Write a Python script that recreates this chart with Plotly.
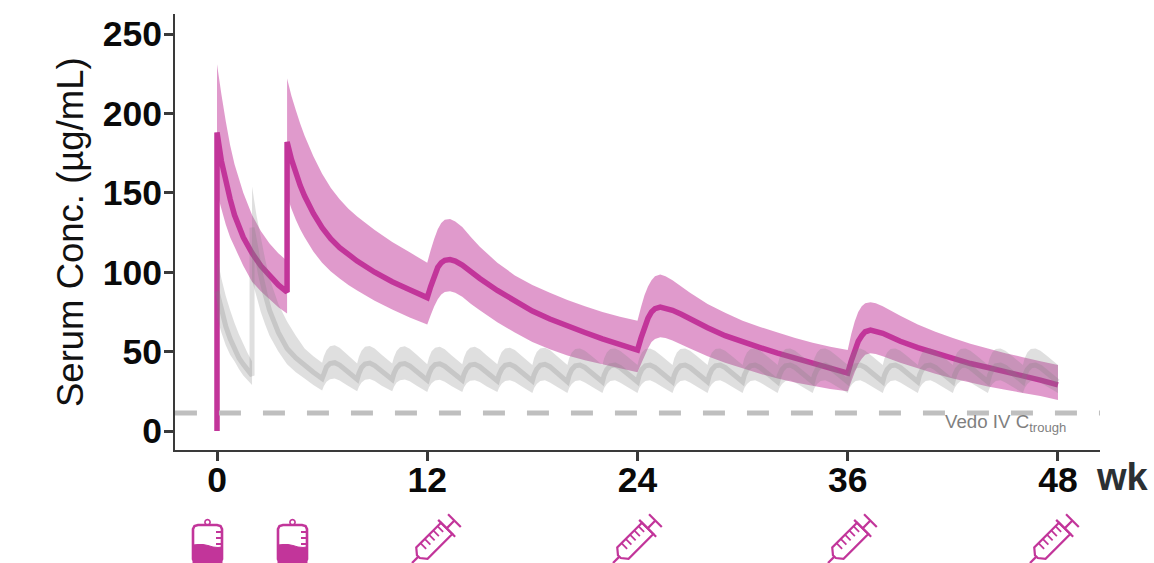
import math
import plotly.graph_objects as go

# ---------- data ----------
mag_weeks = [0, 0.25, 0.5, 0.75, 1, 1.5, 2, 2.5, 3, 3.5, 4,
             4, 4.25, 4.5, 4.75, 5, 5.5, 6, 6.5, 7, 7.5, 8, 9, 10, 11, 12,
             12.2, 12.4, 12.6, 12.8, 13, 13.3, 13.6, 14, 14.5, 15, 16, 17, 18, 19, 20, 21, 22, 23, 24,
             24.2, 24.4, 24.6, 24.8, 25, 25.3, 25.6, 26, 26.5, 27, 28, 29, 30, 31, 32, 33, 34, 35, 36,
             36.2, 36.4, 36.6, 36.8, 37, 37.3, 37.6, 38, 38.5, 39, 40, 41, 42, 43, 44, 45, 46, 47, 48]
mag_median = [188, 170, 157, 146, 136, 122, 112, 104, 98, 92, 87.5,
              182, 171, 162, 154.5, 148, 137, 128, 121, 115.5, 111, 107, 100, 94, 89, 84,
              91, 98, 103, 106, 107.5, 108, 107, 104.5, 100, 96, 88.5, 81.5, 75.5, 70.5, 66, 62, 58, 54.5, 51,
              58.5, 65.5, 71, 75, 77, 78, 77.5, 76, 73.5, 70.5, 65, 60, 56, 52.5, 49, 46, 43, 39.5, 36.5,
              44, 51, 56.5, 60, 62.5, 63.5, 63, 61.5, 59, 56.5, 52.5, 49, 45.5, 42.5, 40, 37.5, 35, 32, 29]
mag_upper = [231, 212, 195, 180, 168, 150, 136, 126, 118, 112, 107,
             222, 211, 202, 193.5, 186, 173, 162, 153, 146, 140, 135, 126.5, 119, 112.5, 106,
             114, 121, 127, 131, 133, 133.5, 132, 128.5, 122, 116, 106, 98, 92, 87, 82.5, 78.5, 75, 72, 69.5,
             78, 85.5, 91, 95, 97.5, 98.5, 97.5, 95, 91, 87, 80, 74.5, 69.5, 65.5, 62, 58.5, 55.5, 53, 51,
             61, 69, 75, 78.5, 80.5, 81, 80.5, 78.5, 75.5, 72.5, 67, 62.5, 58.5, 55, 52, 49, 46.5, 44, 41.5]
mag_lower = [150, 140, 130, 122, 116, 104, 94, 88, 83, 78, 74,
             148, 140, 133, 127, 122, 113, 106, 100.5, 96, 92, 88.5, 82, 76.5, 71.5, 67,
             73, 78.5, 83, 86, 87.5, 88, 87, 84.5, 80, 76, 68.5, 62, 56, 51.5, 47.5, 44.5, 42, 39.5, 37,
             42, 47, 52, 56, 58, 59, 58.5, 57, 54.5, 52, 47, 43, 39.5, 36, 33, 30.5, 28.5, 26.5, 25,
             31, 37, 42, 45.5, 48, 49, 48.5, 47, 45, 43, 39.5, 36, 33, 30.5, 28, 26, 24, 22, 19.5]

gray_weeks = [0, 0.25, 0.5, 0.75, 1, 1.25, 1.5, 1.75, 2,
              2, 2.25, 2.5, 2.75, 3, 3.5, 4, 4.5, 5, 5.5,
              6, 6.1, 6.25, 6.45, 6.72, 7, 7.4,
              8, 8.1, 8.25, 8.45, 8.72, 9, 9.4,
              10, 10.1, 10.25, 10.45, 10.72, 11, 11.4,
              12, 12.1, 12.25, 12.45, 12.72, 13, 13.4,
              14, 14.1, 14.25, 14.45, 14.72, 15, 15.4,
              16, 16.1, 16.25, 16.45, 16.72, 17, 17.4,
              18, 18.1, 18.25, 18.45, 18.72, 19, 19.4,
              20, 20.1, 20.25, 20.45, 20.72, 21, 21.4,
              22, 22.1, 22.25, 22.45, 22.72, 23, 23.4,
              24, 24.1, 24.25, 24.45, 24.72, 25, 25.4,
              26, 26.1, 26.25, 26.45, 26.72, 27, 27.4,
              28, 28.1, 28.25, 28.45, 28.72, 29, 29.4,
              30, 30.1, 30.25, 30.45, 30.72, 31, 31.4,
              32, 32.1, 32.25, 32.45, 32.72, 33, 33.4,
              34, 34.1, 34.25, 34.45, 34.72, 35, 35.4,
              36, 36.1, 36.25, 36.45, 36.72, 37, 37.4,
              38, 38.1, 38.25, 38.45, 38.72, 39, 39.4,
              40, 40.1, 40.25, 40.45, 40.72, 41, 41.4,
              42, 42.1, 42.25, 42.45, 42.72, 43, 43.4,
              44, 44.1, 44.25, 44.45, 44.72, 45, 45.4,
              46, 46.1, 46.25, 46.45, 46.72, 47, 47.4,
              48]
gray_median = [88, 76, 66, 58, 52, 46, 42, 38, 35,
               128, 112, 98, 86, 76, 62, 52, 46, 41, 37,
               33, 36.8, 40.3, 42.5, 43, 41.5, 38,
               32.5, 36.3, 40, 42.2, 42.8, 41.2, 37.6,
               32.5, 36.2, 39.7, 42, 42.5, 41, 37.5,
               32, 36, 39.5, 41.8, 42.3, 40.8, 37.3,
               32, 35.8, 39.2, 41.5, 42, 40.5, 37,
               31.5, 35.5, 39, 41.4, 42, 40.5, 37,
               31.5, 35.5, 39, 41.4, 42, 40.5, 37,
               31, 35.2, 38.8, 41, 41.5, 40, 36.6,
               31, 35.2, 38.8, 41, 41.5, 40, 36.6,
               31, 35.2, 38.8, 41, 41.5, 40, 36.6,
               31, 35.2, 38.8, 41, 41.5, 40, 36.6,
               31, 35.2, 38.8, 41, 41.5, 40, 36.6,
               31, 35.2, 38.8, 41, 41.5, 40, 36.6,
               31, 35.2, 38.8, 41, 41.5, 40, 36.6,
               31, 35.2, 38.8, 41, 41.5, 40, 36.6,
               31, 35.2, 38.8, 41, 41.5, 40, 36.6,
               31, 35.2, 38.8, 41, 41.5, 40, 36.6,
               31, 35.2, 38.8, 41, 41.5, 40, 36.6,
               31, 35.2, 38.8, 41, 41.5, 40, 36.6,
               31, 35.2, 38.8, 41, 41.5, 40, 36.6,
               31, 35.2, 38.8, 41, 41.5, 40, 36.6,
               31]
gray_upper = [110, 96, 85, 76, 68, 61, 55, 49, 44,
              154, 136, 122, 108, 96, 80, 69, 60, 52, 47,
              43, 47, 50.8, 53.3, 54, 52.5, 48.5,
              42.5, 46.8, 50.6, 53, 53.5, 52, 48,
              42.5, 46.5, 50.4, 52.8, 53.3, 51.8, 48,
              42, 46.3, 50.2, 52.5, 53, 51.5, 47.5,
              42, 46.3, 50.2, 52.5, 53, 51.5, 47.5,
              42, 46, 49.8, 52, 52.5, 51, 47.3,
              41.5, 46, 49.8, 52, 52.5, 51, 47.3,
              41.5, 45.8, 49.5, 51.6, 52, 50.6, 47,
              41.5, 45.8, 49.5, 51.6, 52, 50.6, 47,
              41.5, 45.8, 49.5, 51.6, 52, 50.6, 47,
              41.5, 45.8, 49.5, 51.6, 52, 50.6, 47,
              41.5, 45.8, 49.5, 51.6, 52, 50.6, 47,
              41.5, 45.8, 49.5, 51.6, 52, 50.6, 47,
              41.5, 45.8, 49.5, 51.6, 52, 50.6, 47,
              41.5, 45.8, 49.5, 51.6, 52, 50.6, 47,
              41.5, 45.8, 49.5, 51.6, 52, 50.6, 47,
              41.5, 45.8, 49.5, 51.6, 52, 50.6, 47,
              41.5, 45.8, 49.5, 51.6, 52, 50.6, 47,
              41.5, 45.8, 49.5, 51.6, 52, 50.6, 47,
              41.5, 45.8, 49.5, 51.6, 52, 50.6, 47,
              41.5, 45.8, 49.5, 51.6, 52, 50.6, 47,
              41.5]
gray_lower = [72, 62, 54, 48, 44, 39, 35, 32, 29,
              95, 85, 75, 67, 60, 50, 42, 37, 33, 29,
              25.5, 28.3, 31, 32.6, 33, 31.8, 29,
              25, 27.8, 30.5, 32.3, 32.8, 31.5, 28.5,
              25, 27.8, 30.5, 32, 32.5, 31.3, 28.5,
              24.5, 27.5, 30, 31.8, 32.3, 31, 28.2,
              24.5, 27.5, 30, 31.6, 32, 30.8, 28,
              24.5, 27.2, 29.8, 31.5, 32, 30.8, 28,
              24, 27, 29.6, 31.5, 32, 30.6, 27.8,
              24, 27, 29.6, 31.5, 32, 30.6, 27.8,
              24, 27, 29.6, 31.5, 32, 30.6, 27.8,
              24, 27, 29.6, 31.5, 32, 30.6, 27.8,
              24, 27, 29.6, 31.5, 32, 30.6, 27.8,
              24, 27, 29.6, 31.5, 32, 30.6, 27.8,
              24, 27, 29.6, 31.5, 32, 30.6, 27.8,
              24, 27, 29.6, 31.5, 32, 30.6, 27.8,
              24, 27, 29.6, 31.5, 32, 30.6, 27.8,
              24, 27, 29.6, 31.5, 32, 30.6, 27.8,
              24, 27, 29.6, 31.5, 32, 30.6, 27.8,
              24, 27, 29.6, 31.5, 32, 30.6, 27.8,
              24, 27, 29.6, 31.5, 32, 30.6, 27.8,
              24, 27, 29.6, 31.5, 32, 30.6, 27.8,
              24, 27, 29.6, 31.5, 32, 30.6, 27.8,
              24]

x_ticks = [0, 12, 24, 36, 48]
y_ticks = [0, 50, 100, 150, 200, 250]
trough_level = 11.3
trough_span = [-2.4, 50.4]

# ---------- style / layout constants ----------
W, H = 1154, 563
L, R, T, B = 175, 1100, 14, 450
MAG = "#C2359A"
FONT = "Liberation Sans"
AXC = "#3a3a3a"

def px(x):
    return (x - L) / (R - L)

def py(y):
    return (B - y) / (B - T)

fig = go.Figure()

fig.add_trace(go.Scatter(x=mag_weeks + mag_weeks[::-1], y=mag_upper + mag_lower[::-1],
                         fill="toself", fillcolor="rgba(194,53,154,0.5)", mode="none",
                         hoverinfo="skip", showlegend=False))
fig.add_trace(go.Scatter(x=[0] + mag_weeks, y=[0] + mag_median, mode="lines",
                         line=dict(color=MAG, width=5.5), showlegend=False))
fig.add_trace(go.Scatter(x=gray_weeks + gray_weeks[::-1], y=gray_upper + gray_lower[::-1],
                         fill="toself", fillcolor="rgba(128,128,128,0.25)", mode="none",
                         hoverinfo="skip", showlegend=False))
fig.add_trace(go.Scatter(x=gray_weeks, y=gray_median, mode="lines",
                         line=dict(color="rgba(128,128,128,0.25)", width=5), showlegend=False))
fig.add_trace(go.Scatter(x=trough_span, y=[trough_level, trough_level], mode="lines",
                         line=dict(color="#bfbfbf", width=5, dash="22px,22px"), showlegend=False))

# ---------- dosing icons (page decoration, placed in pixels) ----------
shapes = []

def pth(points, close=False):
    s = "M " + " L ".join(f"{px(a):.5f},{py(b):.5f}" for a, b in points)
    return s + (" Z" if close else "")

def bag(x0, y0):
    def P(a, b):
        return (x0 + a, y0 + b)
    outline = [P(6, 6), P(25, 6), P(28.5, 7), P(30, 10), P(30, 40), P(28, 43), P(25, 44),
               P(6, 44), P(3, 43), P(1, 40), P(1, 10), P(2.5, 7)]
    shapes.append(dict(type="path", xref="paper", yref="paper",
                       path=pth(outline, True), line=dict(color=MAG, width=2.6)))
    fill = [P(1, 26), P(6, 25.5), P(11, 25.5), P(16, 26.5), P(21, 28), P(26, 28.5), P(30, 28),
            P(30, 44), P(1, 44)]
    shapes.append(dict(type="path", xref="paper", yref="paper", fillcolor=MAG,
                       path=pth(fill, True), line=dict(color=MAG, width=1)))
    for t in (13, 19, 25):
        shapes.append(dict(type="path", xref="paper", yref="paper",
                           path=pth([P(24, t), P(30, t)]), line=dict(color=MAG, width=2)))
    ring = [P(15.5 + 2.6 * math.cos(k * math.pi / 6), 3.2 + 2.6 * math.sin(k * math.pi / 6))
            for k in range(12)]
    shapes.append(dict(type="path", xref="paper", yref="paper",
                       path=pth(ring, True), line=dict(color=MAG, width=1.6)))

def syringe(x0, y0):
    s = 1 / math.sqrt(2)
    def Q(u, v):
        return (x0 + (u + v) * s, y0 + 46 + (-u + v) * s)
    def add(points, close=False, w=2.2):
        shapes.append(dict(type="path", xref="paper", yref="paper",
                           path=pth(points, close), line=dict(color=MAG, width=w)))
    add([Q(0, 0), Q(9, 0)])
    add([Q(9, -2), Q(14, -8), Q(49, -8), Q(49, 8), Q(14, 8), Q(9, 2)], True)
    add([Q(49, -12), Q(49, 12)])
    add([Q(49, 0), Q(60, 0)])
    add([Q(60, -9), Q(60, 9)])
    for u in (20, 26, 32, 38, 44):
        add([Q(u, -8), Q(u, 0)], w=1.8)

bag(192, 519)
bag(277, 519)
syringe(412, 517)
syringe(613, 517)
syringe(828, 517)
syringe(1030, 517)

# ---------- text ----------
annots = [
    dict(text="Serum Conc. (µg/mL)", x=px(70), y=py(232), textangle=-90,
         font=dict(family=FONT, size=36.5, color="#111111")),
    dict(text="wk", x=px(1122), y=py(477),
         font=dict(family=FONT, size=38, color="#2b3033", weight="bold")),
    dict(text="Vedo IV C<sub>trough</sub>", x=px(1005), y=py(423),
         font=dict(family=FONT, size=18.7, color="#7f7f7f")),
]
for a in annots:
    a.update(xref="paper", yref="paper", showarrow=False, xanchor="center", yanchor="middle")

tick_font = dict(family=FONT, size=35.5, color="#0a0a0a", weight="bold")
fig.update_layout(
    width=W, height=H, autosize=False,
    margin=dict(l=L, r=W - R, t=T, b=H - B, pad=0),
    plot_bgcolor="white", paper_bgcolor="white", showlegend=False,
    xaxis=dict(range=[(L - 217) / 17.52, (R - 217) / 17.52], tickmode="array", tickvals=x_ticks,
               showgrid=False, zeroline=False, showline=True, linecolor=AXC, linewidth=2,
               ticks="outside", ticklen=9, tickwidth=3, tickcolor=AXC, tickfont=tick_font,
               ticklabelstandoff=-12),
    yaxis=dict(range=[(431 - B) / 1.588, (431 - T) / 1.588], tickmode="array", tickvals=y_ticks,
               showgrid=False, zeroline=False, showline=True, linecolor=AXC, linewidth=2,
               ticks="outside", ticklen=9, tickwidth=3, tickcolor=AXC, tickfont=tick_font,
               ticklabelstandoff=-5),
    shapes=shapes, annotations=annots,
)

fig.write_html("out.html", config={"displayModeBar": False},
               post_script="document.body.style.margin='0';")
